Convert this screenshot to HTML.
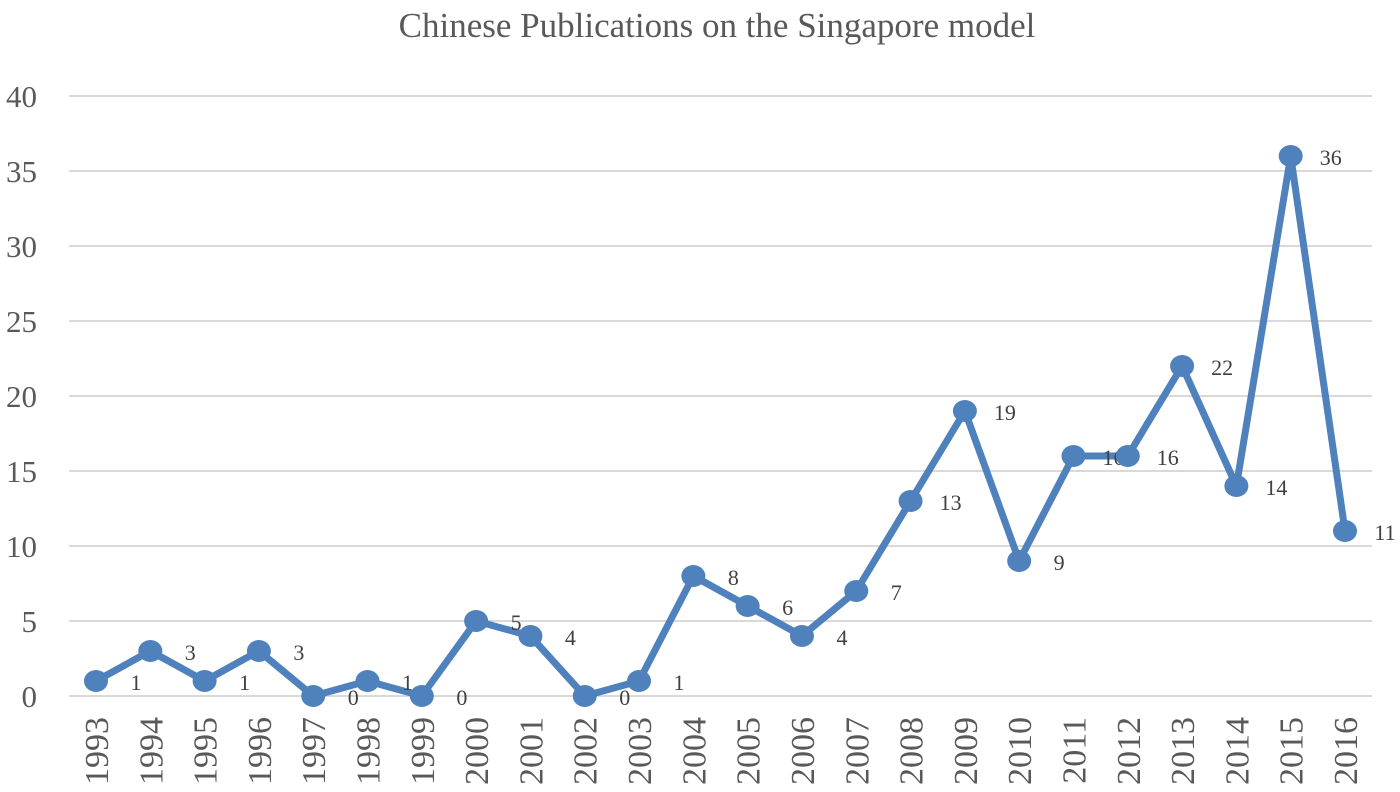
<!DOCTYPE html>
<html><head><meta charset="utf-8"><style>
body{margin:0;background:#fff;}
svg{display:block;font-family:"Liberation Serif",serif;}
</style></head><body>
<svg id="chart" width="1400" height="792">
<text x="717" y="37" text-anchor="middle" font-size="35" fill="#595959">Chinese Publications on the Singapore model</text>
<g id="grid"></g><g id="yt"></g><g id="xt"></g><g id="series"></g>
</svg>
<script>
const categories=["1993","1994","1995","1996","1997","1998","1999","2000","2001","2002","2003","2004","2005","2006","2007","2008","2009","2010","2011","2012","2013","2014","2015","2016"];
const values=[1,3,1,3,0,1,0,5,4,0,1,8,6,4,7,13,19,9,16,16,22,14,36,11];
const yTicks=[0,5,10,15,20,25,30,35,40];
const NS="http://www.w3.org/2000/svg";
const y=v=>696-v*15;
const x=i=>96+i*(1345-96)/23;
function mk(tag,attrs,parent,txt){const e=document.createElementNS(NS,tag);for(const k in attrs)e.setAttribute(k,attrs[k]);if(txt!==undefined)e.textContent=txt;parent.appendChild(e);return e;}
const grid=document.getElementById('grid'),yt=document.getElementById('yt'),xt=document.getElementById('xt'),ser=document.getElementById('series');
yTicks.forEach(t=>{
 const l=mk('line',{x1:69,x2:1372,y1:y(t),y2:y(t),stroke:'#d9d9d9','stroke-width':2},grid);
 
 
 const tx=mk('text',{x:37,y:y(t)+11,'text-anchor':'end','font-size':31,fill:'#595959'},yt,String(t));
 
 
});
categories.forEach((c,i)=>{
 const tx=mk('text',{transform:`translate(${x(i)+12},717) rotate(-90)`,'text-anchor':'end','font-size':34,fill:'#595959'},xt,c);
 
 
});
const pl=mk('polyline',{points:values.map((v,i)=>x(i)+','+y(v)).join(' '),fill:'none',stroke:'#4f81bd','stroke-width':7,'stroke-linejoin':'round'},ser);


values.forEach((v,i)=>{
 const c=mk('ellipse',{cx:x(i),cy:y(v),rx:12,ry:11,fill:'#4f81bd'},ser);
 
 
 const t=mk('text',{x:x(i)+40,y:y(v)+9,'text-anchor':'middle','font-size':22,fill:'#404040'},ser,String(v));
 
 
});
</script>
</body></html>
